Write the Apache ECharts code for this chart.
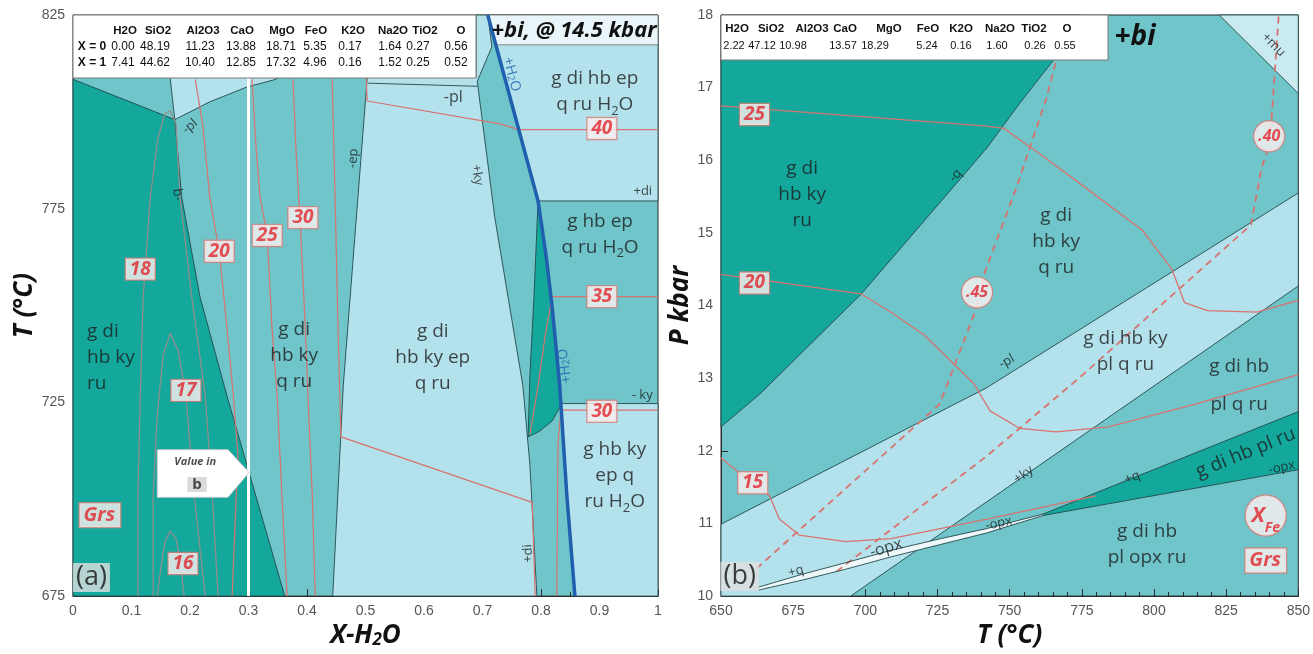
<!DOCTYPE html>
<html>
<head>
<meta charset="utf-8">
<script src="https://cdn.jsdelivr.net/npm/echarts@6/dist/echarts.min.js"></script>
<style>
html,body{margin:0;padding:0;background:#fff}
#chart{width:1313px;height:654px}
</style>
</head>
<body>
<div id="chart"></div>
<script>
// ---------- Panel (a): T vs X-H2O at 14.5 kbar ----------
// phase fields, [X, T]
const aDarkField = [[0,808.4],[0.174,798.0],[0.186,777.8],[0.217,752.3],[0.263,726.8],[0.301,706.9],[0.362,675],[0,675]];
const aTopLightField = [[0.166,808.9],[0.354,808.9],[0.342,808.2],[0.297,806.4],[0.234,802.6],[0.174,798.0]];
const aEpField = [[0.503,808.9],[0.689,808.9],[0.689,825],[0.709,825],[0.716,816.8],[0.691,807.9],[0.721,772.7],[0.769,729.3],[0.781,708.9],[0.793,675],[0.444,675],[0.462,729.3],[0.487,777.8]];
const aFluidTopField = [[0.709,825],[1,825],[1,777.0],[0.795,777.0]];
const aFluidLowField = [[0.834,724.7],[1,724.7],[1,675],[0.858,675],[0.844,701.3]];
const aDarkLens = [[0.795,777.0],[0.809,762.5],[0.819,749.7],[0.832,729.3],[0.834,724.2],[0.819,720.2],[0.798,717.6],[0.778,716.1],[0.781,731.9],[0.788,752.3]];
const aBiBox = [[0.709,825],[1,825],[1,817.3],[0.723,817.3]];
// boundaries
const aPlLine = [[0.504,807.4],[0.691,806.6]];
const aH2OLine = [[0.709,825],[0.795,777.0],[0.809,762.5],[0.819,749.7],[0.832,729.3],[0.844,701.3],[0.858,675]];
const aBulkLine = [[0.3,808.9],[0.3,675]];
// garnet (Grs) isopleths
const aGrs16 = [[0.144,675],[0.149,680.9],[0.157,689.0],[0.166,691.8],[0.176,689.8],[0.184,683.4],[0.190,675]];
const aGrs17 = [[0.137,675],[0.137,701.3],[0.144,721.7],[0.154,737.0],[0.166,742.9],[0.180,738.3],[0.193,726.8],[0.207,701.3],[0.226,675]];
const aGrs18 = [[0.111,675],[0.111,701.3],[0.115,726.8],[0.120,752.3],[0.132,777.8],[0.145,793.1],[0.157,799.5],[0.166,800.3],[0.176,797.0],[0.183,777.8],[0.203,752.3],[0.226,726.8],[0.238,701.3],[0.248,675]];
const aGrs20 = [[0.209,808.4],[0.222,796.4],[0.234,777.8],[0.250,764.0],[0.263,744.6],[0.274,726.8],[0.282,711.5],[0.272,675]];
const aGrs25 = [[0.306,808.4],[0.313,790.6],[0.320,777.8],[0.332,768.1],[0.340,744.6],[0.349,726.8],[0.357,701.3],[0.366,675]];
const aGrs30 = [[0.376,808.4],[0.381,790.6],[0.388,772.7],[0.397,744.6],[0.403,721.7],[0.409,701.3],[0.414,675]];
const aGrs35 = [[0.443,808.4],[0.448,777.8],[0.453,744.6],[0.458,716.1],[0.785,699.2],[0.790,675]];
const aGrs40 = [[0.501,808.9],[0.503,802.8],[0.730,796.9],[0.762,795.4],[1,795.4]];
const aGrs35R = [[1,752.3],[0.819,752.3],[0.807,742.1],[0.795,729.3],[0.781,716.6]];
const aGrs30R = [[1,723.0],[0.834,723.0],[0.829,714.0],[0.827,675]];
// label anchors [X, T, text]
const aGrsTags = [[0.115,759.4,'18'],[0.250,764.0,'20'],[0.332,768.1,'25'],[0.393,772.7,'30'],[0.193,728.1,'17'],[0.188,683.4,'16'],[0.904,795.7,'40'],[0.904,752.3,'35'],[0.904,722.7,'30']];
const aFieldTags = [
  [0.378,737.0,'g di\nhb ky\nq ru'],
  [0.615,736.5,'g di\nhb ky ep\nq ru'],
  [0.892,805.1,'g di hb ep\nq ru H{s|2}O'],
  [0.901,768.4,'g hb ep\nq ru H{s|2}O'],
  [0.926,706.1,'g hb ky\nep q\nru H{s|2}O']
];
const aLineTags = [
  [0.200,796.2,'-pl',40],[0.178,778.6,'-q',98],[0.479,788.0,'-ep',86],[0.691,783.7,'+ky',-81],
  [0.974,779.6,'+di',0],[0.973,726.8,'- ky',0],[0.778,686.0,'+di',93]
];
const aTableHead = ['H2O','SiO2','Al2O3','CaO','MgO','FeO','K2O','Na2O','TiO2','O'];
const aTableX0 = ['0.00','48.19','11.23','13.88','18.71','5.35','0.17','1.64','0.27','0.56'];
const aTableX1 = ['7.41','44.62','10.40','12.85','17.32','4.96','0.16','1.52','0.25','0.52'];

// ---------- Panel (b): P-T section ----------
const bDarkField = [[650,12.33],[663.4,12.78],[698.6,14.16],[742.1,16.17],[753.4,16.78],[765.4,17.39],[774.7,18],[650,18]];
const bPlBand = [[650,10],[650,10.99],[742.1,12.87],[850,15.55],[850,14.27],[694.9,10]];
const bMuCorner = [[822.6,18],[850,18],[850,16.92]];
const bWedge = [[761.6,11.13],[850,12.54],[850,11.74],[761.6,11.11]];
const bLensUpper = [[662.7,10.12],[678.1,10.30],[693.2,10.46],[708.9,10.63],[726.0,10.79],[742.1,10.93],[761.6,11.13]];
const bLensLower = [[662.7,10.08],[678.1,10.22],[693.2,10.37],[708.9,10.54],[726.0,10.71],[742.1,10.87],[761.6,11.11]];
const bGrs25 = [[650,16.75],[742.1,16.47],[748.0,16.44],[760,16.1],[773.0,15.72],[795.9,15.04],[806.2,14.50],[810.6,14.04],[818.5,13.93],[835.6,13.91],[850,14.07]];
const bGrs20 = [[650,14.43],[698.6,14.16],[709.6,13.89],[720.5,13.59],[737.7,12.92],[743.2,12.55],[753.4,12.31],[766.1,12.26],[784.2,12.33],[814.0,12.64],[850,13.05]];
const bGrs15 = [[650,11.90],[656.5,11.69],[666.8,11.38],[670.2,11.06],[677.1,10.84],[693.2,10.75],[708.9,10.79],[742.1,11.06],[779.8,11.38]];
const bXfe45 = [[662.3,10.38],[725.7,12.64],[738.0,13.91],[741.4,14.46],[752.4,15.63],[762.7,16.85],[770.2,18]];
const bXfe40 = [[690.1,10.34],[742.1,11.93],[774.0,13.0],[833.6,15.11],[837.3,15.90],[839.0,16.10],[840.8,16.60],[843.2,18]];
const bGrsTags = [[661.6,16.63,'25'],[661.6,14.31,'20'],[661.0,11.56,'15']];
const bXfeTags = [[738.7,14.18,'.45'],[839.9,16.33,'.40']];
const bFieldTags = [
  [678.1,15.53,'g di\nhb ky\nru'],
  [766.1,14.88,'g di\nhb ky\nq ru'],
  [790.1,13.36,'g di hb ky\npl q ru'],
  [829.5,13.16,'g di hb'],
  [829.5,12.64,'pl q ru'],
  [797.6,10.71,'g di hb\npl opx ru']
];
const bLineTags = [
  [731.2,15.79,'-q',49],[749.0,13.23,'-pl',29],[754.8,11.67,'+ky',35],[792.5,11.63,'+q',22],
  [676.0,10.34,'+q',15],[844.3,11.77,'-opx',12],[746.2,11.0,'-opx',12],[841.4,17.59,'+mu',-45]
];
const bTableHead = ['H2O','SiO2','Al2O3','CaO','MgO','FeO','K2O','Na2O','TiO2','O'];
const bTableRow = ['2.22','47.12','10.98','13.57','18.29','5.24','0.16','1.60','0.26','0.55'];

// ---------- styling ----------
const DARK = '#14a89d', MED = '#6fc5ca', LIGHT = '#b4e2ec', PALE = '#c9eaf1';
const EDGE = '#24494b', ISO = '#d8736f', ISO_DARK = '#978c8c', BLUE = '#1f5fae';
const FONT = "'Open Sans','Noto Sans',sans-serif";
const NUMFONT = "'Liberation Sans',Arial,sans-serif";

function field(pts, fill, g, stroke) {
  return {
    type: 'custom', xAxisIndex: g, yAxisIndex: g, silent: true, z: 2, data: pts,
    renderItem: function (params, api) {
      if (params.dataIndex !== 0) return null;
      return { type: 'polygon', shape: { points: pts.map(p => api.coord(p)) },
        style: { fill: fill, stroke: stroke === undefined ? EDGE : stroke, lineWidth: 0.9 } };
    }
  };
}
function curve(pts, color, width, g, type, z) {
  return { type: 'line', xAxisIndex: g, yAxisIndex: g, data: pts, symbol: 'none', silent: true,
    z: z || 3, lineStyle: { color: color, width: width, type: type || 'solid' } };
}
const SUB = { s: { fontFamily: FONT, fontSize: 13, verticalAlign: 'bottom', lineHeight: 13, color: '#1b1b1b' } };
const GRS_STYLE = { fontFamily: FONT, fontSize: 19, fontStyle: 'italic', fontWeight: 'bold', color: '#e1262d',
  backgroundColor: '#fcf1f1', borderColor: '#d57d78', borderWidth: 1.2, padding: [2, 4, 0, 4] };
const CIRCLE_STYLE = { fontFamily: FONT, fontSize: 16, fontStyle: 'italic', fontWeight: 'bold', color: '#e1262d',
  backgroundColor: '#fcf1f1', borderColor: '#d57d78', borderWidth: 1.2, width: 30, height: 30, lineHeight: 30,
  align: 'center', borderRadius: 15 };
function tags(g, items) {
  return { type: 'scatter', xAxisIndex: g, yAxisIndex: g, symbolSize: 0, silent: true, z: 12,
    itemStyle: { color: 'rgba(0,0,0,0)' },
    label: { show: true, position: 'inside', formatter: '{b}', fontFamily: FONT, color: '#1b1b1b' },
    data: items };
}
function item(x, y, text, style) { return { name: text, value: [x, y], label: style }; }

const leftTags = [];
aFieldTags.forEach(t => leftTags.push(item(t[0], t[1], t[2], { fontSize: 19, lineHeight: 26, rich: SUB })));
leftTags.push(item(0.024, 736.5, 'g di\nhb ky\nru', { fontSize: 19, lineHeight: 26, align: 'left' }));
aGrsTags.forEach(t => leftTags.push(item(t[0], t[1], t[2], GRS_STYLE)));
aLineTags.forEach(t => leftTags.push(item(t[0], t[1], t[2], { fontSize: 13, rotate: t[3] })));
leftTags.push(item(0.650, 803.8, '-pl', { fontSize: 16 }));
leftTags.push(item(0.750, 809.7, '+H{b|2}O', { fontSize: 14, rotate: -75, color: BLUE,
  rich: { b: { fontFamily: FONT, fontSize: 10, verticalAlign: 'bottom', lineHeight: 10, color: BLUE } } }));
leftTags.push(item(0.841, 734.4, '+H{b|2}O', { fontSize: 14, rotate: 98, color: BLUE,
  rich: { b: { fontFamily: FONT, fontSize: 10, verticalAlign: 'bottom', lineHeight: 10, color: BLUE } } }));
leftTags.push(item(0.046, 695.9, 'Grs', Object.assign({}, GRS_STYLE, { fontSize: 20, padding: [3, 5, 1, 4] })));
leftTags.push(item(0.209, 709.7, 'Value in', { fontSize: 11, fontStyle: 'italic', fontWeight: 'bold', color: '#222' }));
leftTags.push(item(0.212, 703.8, 'b', { fontSize: 15, fontWeight: 'bold', color: '#222', backgroundColor: '#d2d2d2', padding: [0, 5, 0, 5] }));
leftTags.push(item(0.0316, 679.8, '(a)', { fontSize: 27, color: '#111', backgroundColor: '#dedede', padding: [2, 3, 0, 3] }));

const rightTags = [];
bFieldTags.forEach(t => rightTags.push(item(t[0], t[1], t[2], { fontSize: 19, lineHeight: 26 })));
rightTags.push(item(831.8, 11.97, 'g di hb pl ru', { fontSize: 19, rotate: 22 }));
bGrsTags.forEach(t => rightTags.push(item(t[0], t[1], t[2], GRS_STYLE)));
bXfeTags.forEach(t => rightTags.push(item(t[0], t[1], t[2], CIRCLE_STYLE)));
bLineTags.forEach(t => rightTags.push(item(t[0], t[1], t[2], { fontSize: 13, rotate: t[3] })));
rightTags.push(item(707.2, 10.66, '-opx', { fontSize: 16, rotate: 17 }));
rightTags.push(item(838.7, 11.11, 'X{f|Fe}', Object.assign({}, CIRCLE_STYLE, { fontSize: 22, width: 40, height: 40, lineHeight: 40, borderRadius: 20,
  rich: { f: { fontFamily: FONT, fontSize: 14, fontStyle: 'italic', fontWeight: 'bold', color: '#e1262d', verticalAlign: 'bottom', lineHeight: 30 } } })));
rightTags.push(item(838.7, 10.49, 'Grs', Object.assign({}, GRS_STYLE, { fontSize: 20, padding: [3, 5, 1, 4] })));
rightTags.push(item(656.5, 10.27, '(b)', { fontSize: 27, color: '#111', backgroundColor: '#dedede', padding: [2, 3, 0, 3] }));

function axisBase(extra) {
  return Object.assign({
    type: 'value',
    axisLine: { show: true, lineStyle: { color: '#2b2b2b', width: 1 } },
    axisTick: { show: true, inside: true, length: 7, lineStyle: { color: '#2b2b2b' } },
    minorTick: { show: true, length: 4, lineStyle: { color: '#2b2b2b' } },
    splitLine: { show: false },
    axisLabel: { color: '#555', fontSize: 14, fontFamily: "'Liberation Sans',Arial,sans-serif" },
    nameLocation: 'middle',
    nameTextStyle: { fontFamily: FONT, fontSize: 26, fontWeight: 'bold', fontStyle: 'italic', color: '#111' }
  }, extra);
}

// composition tables drawn over the top of each frame
function tableText(text, x, y, bold, size) {
  return { type: 'text', z: 30, style: { text: text, x: x, y: y, fill: '#111',
    font: (bold ? 'bold ' : '') + (size || 12) + 'px ' + NUMFONT, align: 'center', verticalAlign: 'middle' } };
}
const graphics = [];
graphics.push({ type: 'rect', z: 29, shape: { x: 73, y: 15, width: 403, height: 63 }, style: { fill: '#ffffff', stroke: '#7a7a7a', lineWidth: 1 } });
const aHeadX = [125,158,203,242,282,316,353,393,425,461];
const aValX = [123,155,200,241,281,315,350,390,418,456];
aTableHead.forEach((t, i) => graphics.push(tableText(t, aHeadX[i], 31, true, 11.5)));
aTableX0.forEach((t, i) => graphics.push(tableText(t, aValX[i], 47, false, 12)));
aTableX1.forEach((t, i) => graphics.push(tableText(t, aValX[i], 63, false, 12)));
graphics.push(tableText('X = 0', 92, 47, true, 12));
graphics.push(tableText('X = 1', 92, 63, true, 12));
graphics.push({ type: 'text', z: 30, style: { text: '+bi, @ 14.5 kbar', x: 574, y: 31, fill: '#111',
  font: 'italic bold 22px ' + FONT, align: 'center', verticalAlign: 'middle' } });
graphics.push({ type: 'rect', z: 29, shape: { x: 721, y: 15, width: 387, height: 45 }, style: { fill: '#ffffff', stroke: '#7a7a7a', lineWidth: 1 } });
const bHeadX = [737,771,812,845,889,928,961,1000,1034,1067];
const bValX = [734,762,793,843,875,927,961,997,1035,1065];
bTableHead.forEach((t, i) => graphics.push(tableText(t, bHeadX[i], 29, true, 11.5)));
bTableRow.forEach((t, i) => graphics.push(tableText(t, bValX[i], 46, false, 11)));
graphics.push({ type: 'text', z: 30, style: { text: '+bi', x: 1135, y: 37, fill: '#111',
  font: 'italic bold 28px ' + FONT, align: 'center', verticalAlign: 'middle' } });

const chart = echarts.init(document.getElementById('chart'), null, { renderer: 'canvas' });
chart.setOption({
  animation: false,
  backgroundColor: '#ffffff',
  grid: [
    { left: 73, top: 15, width: 585, height: 588, show: true, backgroundColor: MED, borderColor: '#2b2b2b', borderWidth: 1 },
    { left: 721, top: 15, width: 584, height: 590, show: true, backgroundColor: MED, borderColor: '#2b2b2b', borderWidth: 1 }
  ],
  xAxis: [
    axisBase({ gridIndex: 0, min: 0, max: 1, interval: 0.1, name: 'X-H{s|2}O', nameGap: 20,
      minorTick: { show: true, splitNumber: 2, length: 4, lineStyle: { color: '#2b2b2b' } },
      nameTextStyle: { fontFamily: FONT, fontSize: 26, fontWeight: 'bold', fontStyle: 'italic', color: '#111',
        rich: { s: { fontFamily: FONT, fontSize: 17, fontWeight: 'bold', fontStyle: 'italic', color: '#111', verticalAlign: 'bottom', lineHeight: 12 } } } }),
    axisBase({ gridIndex: 1, min: 650, max: 850, interval: 25, name: 'T (°C)', nameGap: 22,
      minorTick: { show: true, splitNumber: 5, length: 4, lineStyle: { color: '#2b2b2b' } } })
  ],
  yAxis: [
    axisBase({ gridIndex: 0, min: 675, max: 825, interval: 50, name: 'T (°C)', nameGap: 34, nameRotate: 90,
      minorTick: { show: true, splitNumber: 10, length: 4, lineStyle: { color: '#2b2b2b' } } }),
    axisBase({ gridIndex: 1, min: 10, max: 18, interval: 1, name: 'P kbar', nameGap: 24, nameRotate: 90,
      minorTick: { show: false } })
  ],
  graphic: graphics,
  series: [
    // panel (a) fields
    field(aDarkField, DARK, 0),
    field(aTopLightField, LIGHT, 0),
    field(aEpField, LIGHT, 0),
    field(aFluidTopField, LIGHT, 0),
    field(aFluidLowField, LIGHT, 0),
    field(aDarkLens, DARK, 0),
    // panel (a) isopleths
    curve(aGrs16, ISO_DARK, 1.2, 0), curve(aGrs17, ISO_DARK, 1.2, 0), curve(aGrs18, ISO_DARK, 1.2, 0),
    curve(aGrs20, ISO, 1.2, 0), curve(aGrs25, ISO, 1.2, 0), curve(aGrs30, ISO, 1.2, 0),
    curve(aGrs35, ISO, 1.2, 0), curve(aGrs40, ISO, 1.2, 0), curve(aGrs35R, ISO, 1.2, 0), curve(aGrs30R, ISO, 1.2, 0),
    curve(aPlLine, EDGE, 0.9, 0, 'solid', 4),
    Object.assign(field(aBiBox, '#e9f5f8', 0, '#7a7a7a'), { z: 4 }),
    curve(aBulkLine, '#ffffff', 3, 0, 'solid', 4),
    curve(aH2OLine, BLUE, 3.5, 0, 'solid', 5),
    // panel (b) fields
    field(bDarkField, DARK, 1),
    field(bPlBand, LIGHT, 1),
    field(bMuCorner, PALE, 1),
    field(bWedge, DARK, 1),
    field(bLensUpper.concat(bLensLower.slice().reverse()), '#eef8fa', 1, null),
    curve(bLensUpper, EDGE, 0.9, 1, 'solid', 4),
    curve(bLensLower, EDGE, 0.9, 1, 'solid', 4),
    // panel (b) isopleths
    curve(bGrs25, ISO, 1.3, 1), curve(bGrs20, ISO, 1.3, 1), curve(bGrs15, ISO, 1.3, 1),
    curve(bXfe45, ISO, 1.8, 1, [7, 5]), curve(bXfe40, ISO, 1.8, 1, [7, 5]),
    // callout pointing at the bulk used in (b)
    Object.assign(field([[0.144,712.8],[0.265,712.8],[0.301,706.9],[0.265,700.5],[0.144,700.5]], '#ffffff', 0, '#c8c8c8'), { z: 8 }),
    tags(0, leftTags),
    tags(1, rightTags)
  ]
});
</script>
</body>
</html>
